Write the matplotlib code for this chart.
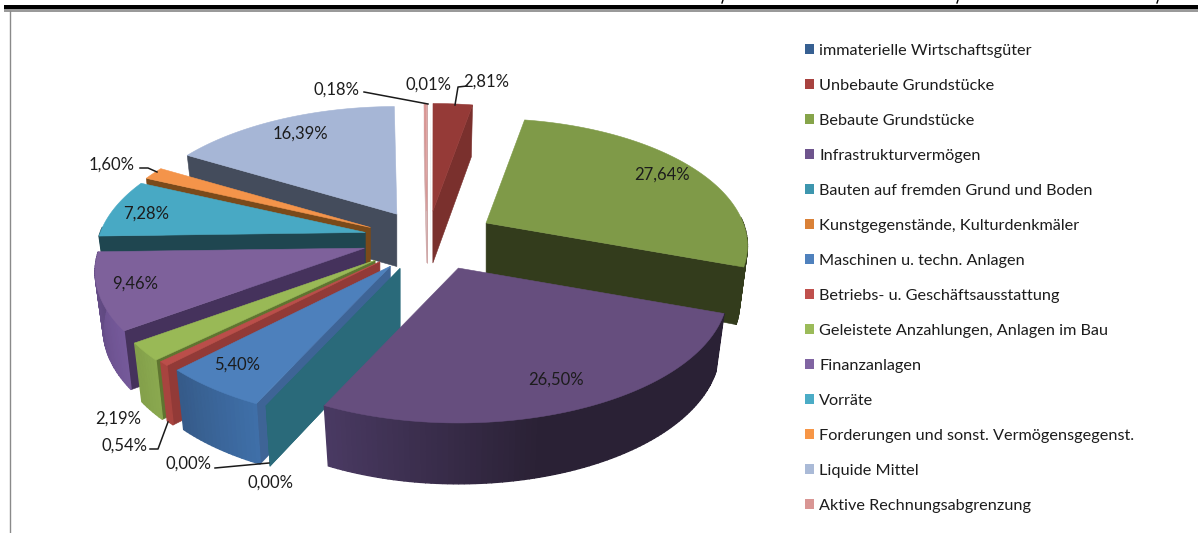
#!/usr/bin/env python3
"""Exploded 3D style pie of balance sheet items, drawn on a pixel canvas."""

import numpy as np
import matplotlib
matplotlib.use("Agg")
import matplotlib.pyplot as plt
from matplotlib.patches import Polygon, Rectangle
from matplotlib.colors import to_rgb

# Data, in clockwise order starting at twelve o'clock
categories = [
    "immaterielle Wirtschaftsgüter",
    "Unbebaute Grundstücke",
    "Bebaute Grundstücke",
    "Infrastrukturvermögen",
    "Bauten auf fremden Grund und Boden",
    "Kunstgegenstände, Kulturdenkmäler",
    "Maschinen u. techn. Anlagen",
    "Betriebs- u. Geschäftsausstattung",
    "Geleistete Anzahlungen, Anlagen im Bau",
    "Finanzanlagen",
    "Vorräte",
    "Forderungen und sonst. Vermögensgegenst.",
    "Liquide Mittel",
    "Aktive Rechnungsabgrenzung",
]
shares = [0.01, 2.81, 27.64, 26.50, 0.00, 0.00, 5.40, 0.54, 2.19, 9.46, 7.28, 1.60, 16.39, 0.18]
share_labels = ["0,01%", "2,81%", "27,64%", "26,50%", "0,00%", "0,00%", "5,40%",
                "0,54%", "2,19%", "9,46%", "7,28%", "1,60%", "16,39%", "0,18%"]

# Styles per slice
legend_colors = ["#376092", "#a8423f", "#86a44a", "#6e548d", "#3d96ae", "#da8137", "#4f81bd",
                 "#c0504d", "#9bbb59", "#8064a2", "#4bacc6", "#f79646", "#aabad7", "#d99694"]
top_colors = ["#376092", "#953a37", "#7f9a48", "#664e7e", "#2a6a7a", "#2a6a7a", "#4d80bc",
              "#bb4e4a", "#99b956", "#7e619b", "#48a9c4", "#f4944a", "#a6b6d6", "#d99694"]
side_colors = ["#254060", "#7a302d", "#333c1c", "#3a2c4e", "#2a6a7a", "#2a6a7a", "#3e6496",
               "#923a37", "#5f7530", "#45325c", "#1f4650", "#7a4a1a", "#444c5c", "#cfa8a8"]
wall_left = ["#254060", "#7a302d", "#333c1c", "#4a3a63", "#2a6a7a", "#2a6a7a", "#3f6fa8",
             "#a8443f", "#8aa84f", "#75599a", "#1f4650", "#7a4a1a", "#444c5c", "#cfa8a8"]
wall_right = ["#254060", "#7a302d", "#333c1c", "#2a2135", "#2a6a7a", "#2a6a7a", "#355a88",
              "#8c3835", "#83a04a", "#5f4880", "#1f4650", "#7a4a1a", "#444c5c", "#cfa8a8"]
apex_dx = [0, -3, -1, 3, -2, -2, -2, -3, -4, -3, 0, -1, 0, -3]
apex_dy = [1, 4, -3, -12, -11, -11, -10, -10, -9, -9, -5, 0, 2, 4]
radius_scale = [1, 1, 0.97, 1, 1, 1, 1, 1, 1, 1, 1, 1, 1, 1]
draw_order = [13, 0, 1, 2, 12, 11, 10, 9, 8, 7, 6, 5, 4, 3]

# Pie geometry in pixels
CX, CY = 430, 245
EXPLODE_X, EXPLODE_Y = 66, 38
RX, RY = 265, 127
PERSP = 0.18
DEPTH = 56

# Label placement in pixels, same order as categories
label_pos = [(428, 85), (486, 82), (662, 175), (556, 380), (271, 483), (189, 464), (237, 365),
             (124, 446), (118, 419), (135, 284), (146, 214), (112, 165), (300, 134), (337, 90)]
leaders = [
    [(364, 92), (428, 104)],
    [(467, 86), (458, 87), (455, 105)],
    [(140, 168), (148, 168), (157, 172)],
    [(150, 449), (158, 449), (168, 422)],
    [(215, 468), (269, 463)],
]


def project(ax_x, ax_y, theta, scale):
    """Rim point of a slice with its tip at (ax_x, ax_y), theta clockwise from north."""
    u, v = np.sin(theta), np.cos(theta)
    w = 1 + PERSP * v
    return ax_x + scale * RX * u / w, ax_y - scale * RY * v / w


def drop(ax_x, x, y, theta):
    """Matching point on the underside of the slice."""
    return ax_x + (x - ax_x) * 0.97, y + DEPTH / (1 + 0.08 * np.cos(theta))


def draw_slice(ax, i, start, end):
    mid = (start + end) / 2
    ax_x = CX + EXPLODE_X * np.sin(mid) + apex_dx[i]
    ax_y = CY - EXPLODE_Y * np.cos(mid) + apex_dy[i]
    n = max(2, int(np.degrees(end - start)) + 1)
    thetas = np.linspace(start, end, n)
    rim = [project(ax_x, ax_y, t, radius_scale[i]) for t in thetas]
    under = [drop(ax_x, x, y, t) for (x, y), t in zip(rim, thetas)]
    tip_under = (ax_x, ax_y + DEPTH / (1 + 0.08 * np.cos(mid)))
    color = side_colors[i]
    # the tiniest slice is thinner than a pixel, an outline would blow it up
    lw = 0 if 0 < shares[i] < 0.05 else 0.4

    # flat sides, only the ones turned to the viewer
    if np.sin(start) < 0:
        ax.add_patch(Polygon([(ax_x, ax_y), rim[0], under[0], tip_under], fc=color, ec=color, lw=lw))
    if np.sin(end) > 0:
        ax.add_patch(Polygon([(ax_x, ax_y), rim[-1], under[-1], tip_under], fc=color, ec=color, lw=lw))

    # a zero share is just the flat side, no wall and no top
    if shares[i] == 0:
        return

    # outer wall, split up to get the shading
    c0, c1 = np.array(to_rgb(wall_left[i])), np.array(to_rgb(wall_right[i]))
    for k in range(n - 1):
        if np.cos(thetas[k]) > 0.03 and np.cos(thetas[k + 1]) > 0.03:
            continue
        if i == 3:
            # the big slice runs right to left, dark until about south
            f = np.clip((thetas[k] - np.radians(165)) / np.radians(40), 0, 1)
        else:
            f = 1 - (thetas[k] - start) / (end - start)
        shade = c1 + (c0 - c1) * f
        ax.add_patch(Polygon([rim[k], rim[k + 1], under[k + 1], under[k]], fc=shade, ec=shade, lw=1.0))

    # top face
    ax.add_patch(Polygon([(ax_x, ax_y)] + rim, fc=top_colors[i], ec=top_colors[i], lw=lw))


def main():
    fig = plt.figure(figsize=(11.98, 5.33), dpi=100)
    ax = fig.add_axes([0, 0, 1, 1])
    ax.set_xlim(0, 1198)
    ax.set_ylim(533, 0)
    ax.axis("off")
    plt.rcParams["font.family"] = ["Lato", "DejaVu Sans"]

    # page rules from the scanned report
    ax.add_patch(Rectangle((4, 5), 1194, 4, fc="black", ec="none"))
    ax.add_patch(Rectangle((4, 9), 1194, 2.5, fc="#9a9a9a", ec="none"))
    ax.plot([10, 10], [11, 533], color="#8a8a8a", lw=1)
    for x in (722, 957, 1157):
        ax.plot([x + 1, x], [0, 3], color="black", lw=1)

    edges = np.radians(np.cumsum([0] + shares) * 3.6)
    for i in draw_order:
        draw_slice(ax, i, edges[i], edges[i + 1])

    for points in leaders:
        xs, ys = zip(*points)
        ax.plot(xs, ys, color="#1a1a1a", lw=1.1)

    for text, (x, y) in zip(share_labels, label_pos):
        ax.text(x, y, text, ha="center", va="center", fontsize=12, color="#1c1c1c")

    handles = [Rectangle((0, 0), 1, 1, fc=c, ec="none") for c in legend_colors]
    ax.legend(handles, categories, loc="upper left", bbox_to_anchor=(805 / 1198, 1 - 44 / 533),
              frameon=False, fontsize=11.7, labelspacing=1.29, handlelength=0.56, handleheight=0.56,
              handletextpad=0.31, borderpad=0, borderaxespad=0, labelcolor="#1c1c1c")

    fig.savefig("out.png", dpi=100, facecolor="white")


if __name__ == "__main__":
    main()
